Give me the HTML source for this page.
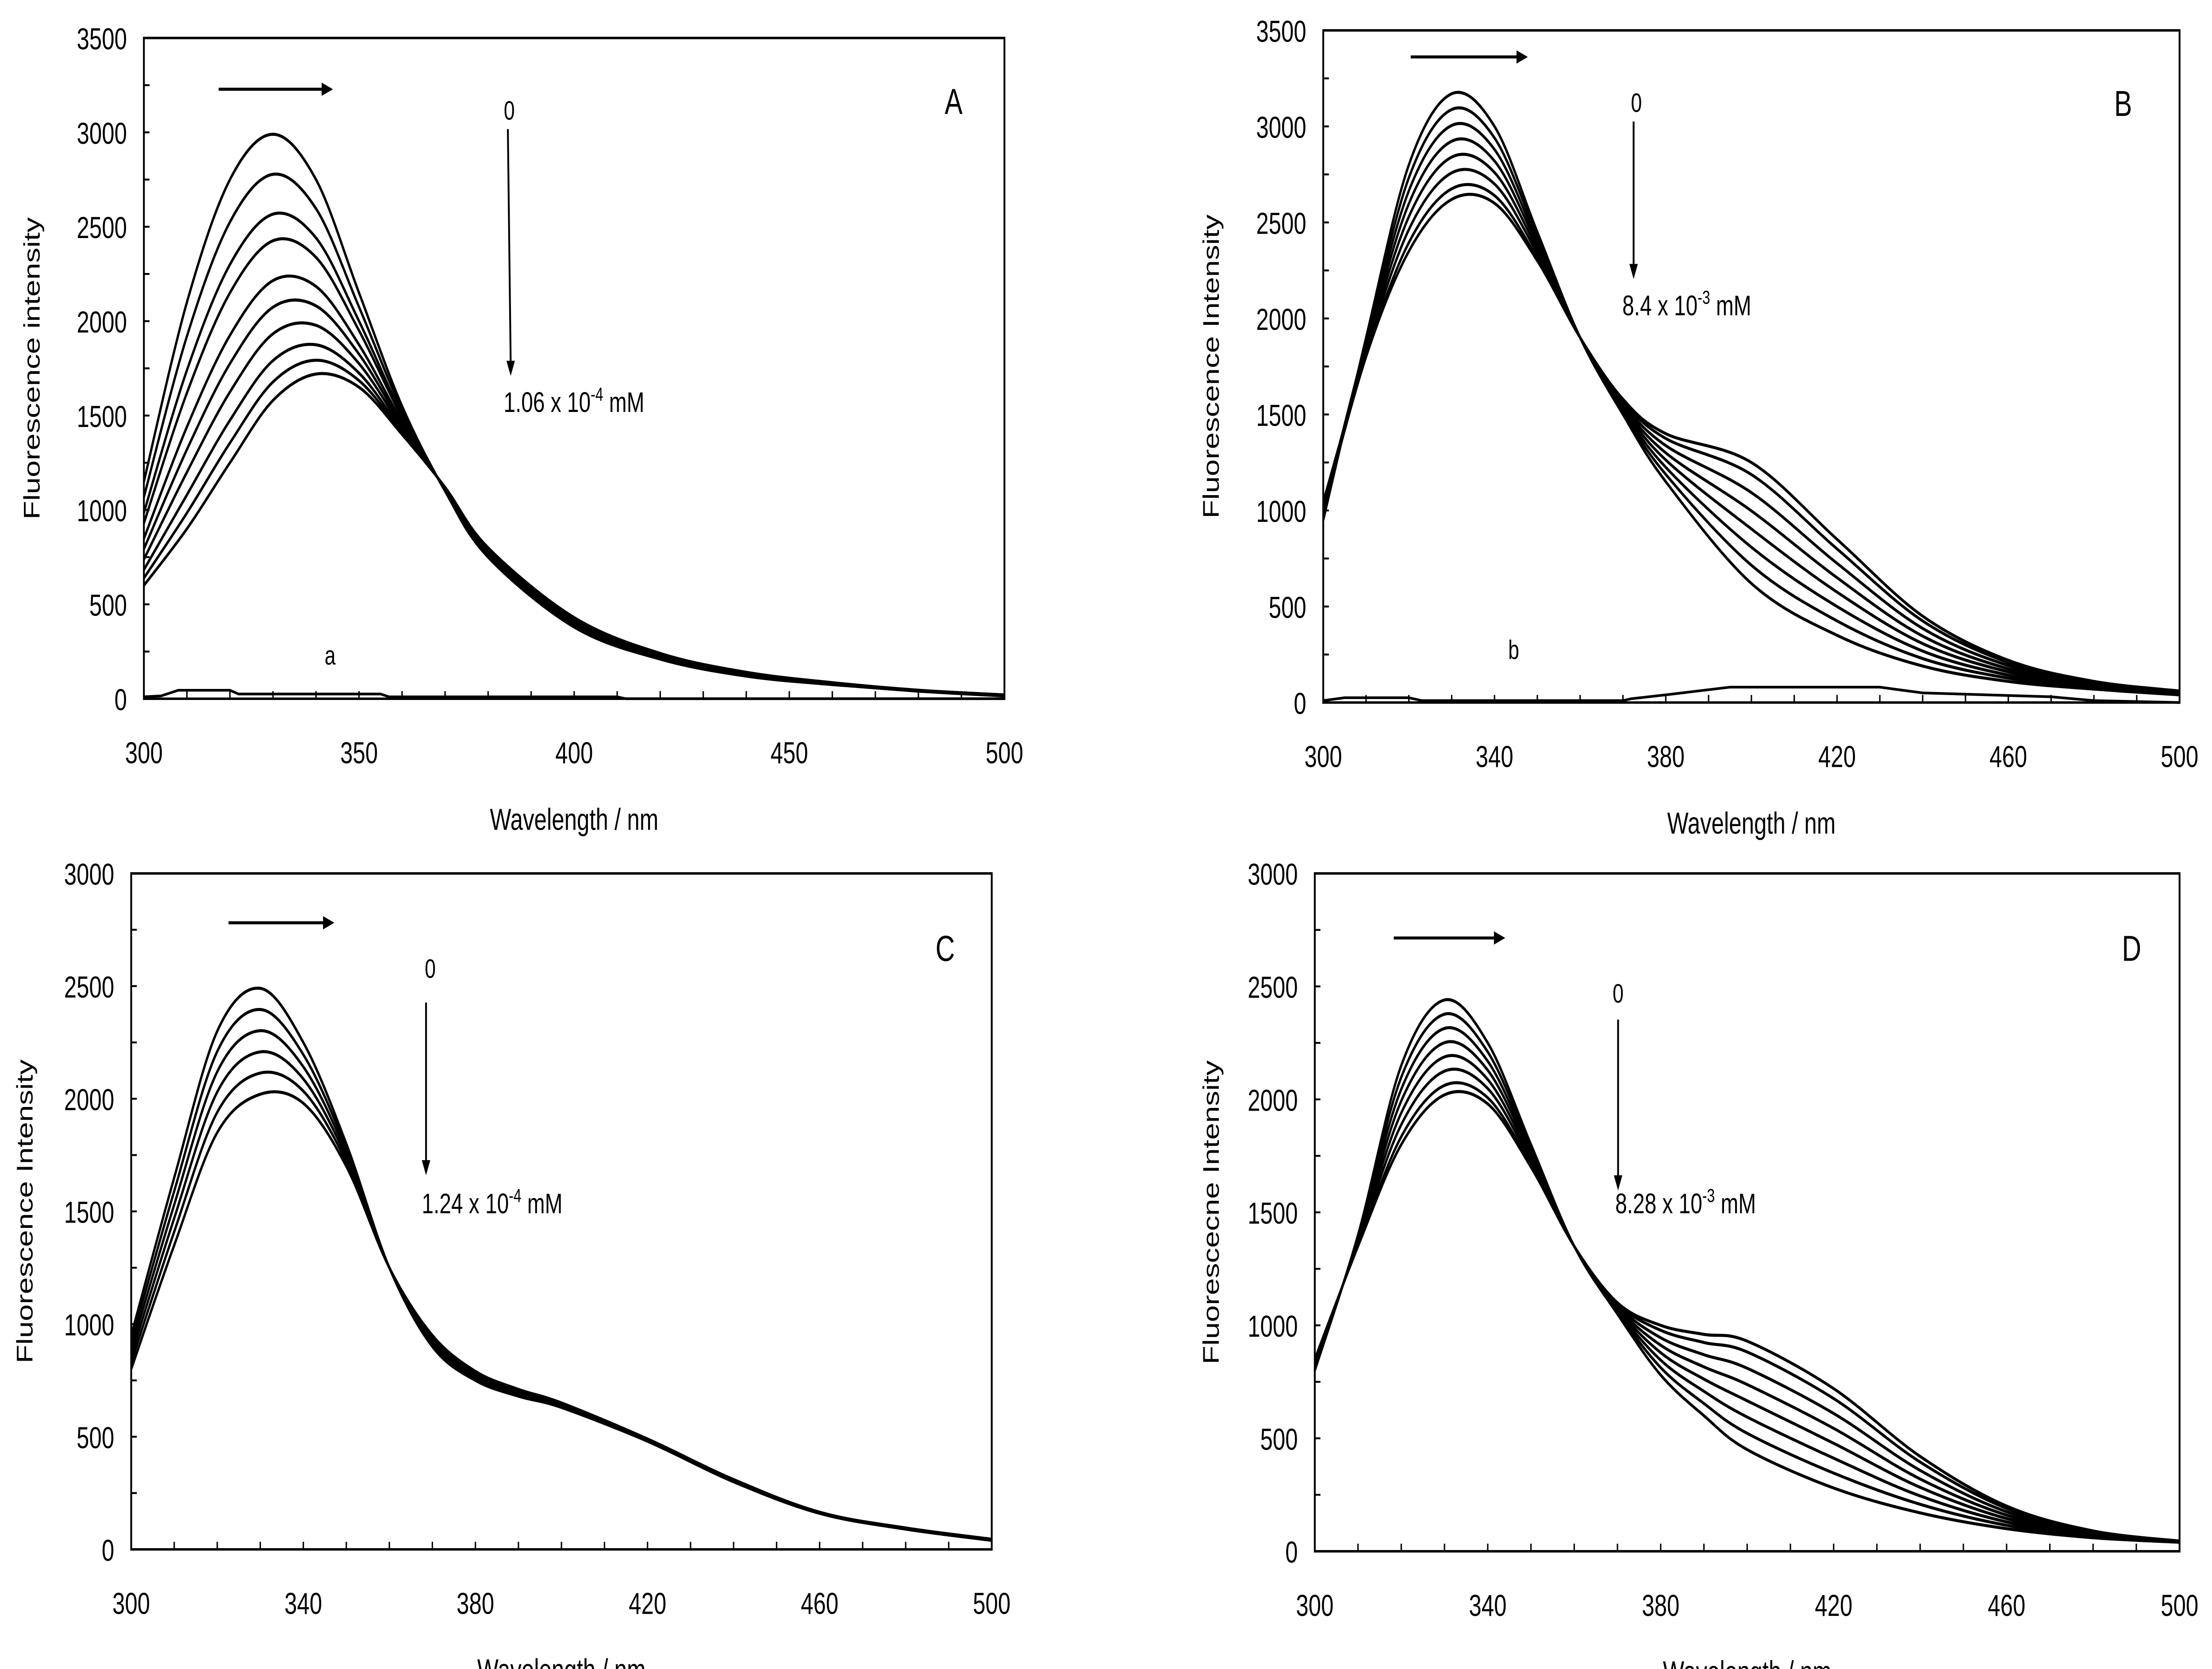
<!DOCTYPE html>
<html><head><meta charset="utf-8"><style>
html,body{margin:0;padding:0;background:#fff;width:100%;height:100%;overflow:hidden;}
svg{display:block;position:fixed;left:0;top:0;width:100vw;height:100vh;}
text{font-family:"Liberation Sans",Arial,sans-serif;fill:#000;}
</style></head><body>
<svg id="fig" viewBox="0 0 1568 879" preserveAspectRatio="none" xmlns="http://www.w3.org/2000/svg">
<rect width="1568" height="879" fill="#fff"/>
</svg>
<script>
// ---------- data ----------
const wlA = [300,310,320,330,340,350,360,370,380,400,420,440,460,480,500];
const seriesA = [
 [1150,2100,2750,2990,2750,2150,1550,1100,750,380,210,120,75,40,15],
 [1068,1920,2525,2778,2596,2075,1528,1103,758,388,215,123,77,41,16],
 [985,1740,2300,2567,2441,2000,1505,1106,765,395,219,126,78,42,17],
 [930,1620,2150,2426,2338,1950,1490,1108,770,400,222,128,79,42,17],
 [848,1440,1925,2215,2184,1875,1468,1111,778,408,227,131,80,43,18],
 [793,1320,1775,2074,2081,1825,1453,1113,783,413,230,134,81,44,18],
 [738,1200,1625,1933,1978,1775,1438,1115,788,418,233,135,82,44,19],
 [683,1080,1475,1791,1875,1725,1423,1117,793,423,236,137,84,45,19],
 [639,984,1355,1678,1793,1685,1411,1119,797,427,239,139,84,45,20],
 [600,900,1250,1580,1720,1650,1400,1120,800,430,240,140,85,45,20]
];
const blankWlA = [300,304,308,320,322,355,357,410,412,500];
const blankA = [10,15,45,45,25,25,10,10,0,0];

const wlB = [300,310,320,330,340,350,360,370,380,400,420,440,460,480,500];
const seriesB = [
 [950,1900,2800,3170,3000,2450,1900,1500,1150,620,350,190,110,70,40],
 [1008,1885,2733,3088,2940,2428,1900,1512,1188,715,425,229,127,76,43],
 [1015,1870,2665,3005,2880,2405,1900,1524,1225,809,500,268,143,82,46],
 [1023,1855,2598,2923,2820,2383,1900,1536,1263,904,575,307,160,88,49],
 [1030,1840,2530,2840,2760,2360,1900,1548,1300,998,650,346,176,94,52],
 [1038,1825,2463,2758,2700,2338,1900,1560,1338,1093,725,386,193,100,55],
 [1045,1810,2395,2675,2640,2315,1900,1572,1375,1187,800,425,209,106,58],
 [1000,1800,2350,2620,2600,2300,1900,1580,1400,1250,850,450,220,110,60]
];
const blankWlB = [300,305,320,323,370,372,380,395,430,440,470,480,500];
const blankB = [10,25,25,10,10,20,40,80,80,50,30,10,0];

const wlC = [300,310,320,330,340,350,360,370,380,390,400,420,440,460,480,500];
const seriesC = [
 [950,1650,2300,2490,2250,1800,1250,900,750,680,630,480,300,160,90,40],
 [920,1590,2210,2396,2196,1780,1250,910,758,686,634,482,302,161,91,41],
 [890,1530,2120,2302,2142,1760,1250,920,766,692,638,484,304,162,92,42],
 [860,1470,2030,2208,2088,1740,1250,930,774,698,642,486,306,163,93,43],
 [830,1410,1940,2114,2034,1720,1250,940,782,704,646,488,308,164,94,44],
 [800,1350,1850,2020,1980,1700,1250,950,790,710,650,490,310,165,95,45]
];

const wlD = [300,310,320,330,340,350,360,370,380,390,400,420,440,460,480,500];
const seriesD = [
 [800,1400,2150,2440,2250,1800,1350,1050,780,600,450,280,170,100,60,40],
 [808,1393,2098,2377,2210,1785,1350,1058,813,654,522,346,208,115,65,41],
 [815,1385,2045,2314,2169,1770,1350,1065,846,708,594,412,245,130,69,42],
 [823,1378,1993,2251,2129,1755,1350,1073,879,762,666,478,283,145,74,42],
 [830,1370,1940,2188,2088,1740,1350,1080,912,816,738,544,320,160,78,43],
 [838,1363,1888,2125,2048,1725,1350,1088,945,870,810,610,358,175,83,44],
 [845,1355,1835,2062,2007,1710,1350,1095,978,924,882,676,395,190,87,45],
 [850,1350,1800,2020,1980,1700,1350,1100,1000,960,930,720,420,200,90,45]
];

const xTicksA = [300,350,400,450,500];
const xTicksB = [300,340,380,420,460,500];
const yTicks3500 = [0,500,1000,1500,2000,2500,3000,3500];
const yTicks3000 = [0,500,1000,1500,2000,2500,3000];

// ---------- rendering ----------
const NS = "http://www.w3.org/2000/svg";
const svg = document.getElementById('fig');
function mk(tag, attrs, parent){
  const e = document.createElementNS(NS, tag);
  for (const k in attrs) e.setAttribute(k, attrs[k]);
  (parent||svg).appendChild(e);
  return e;
}
function smoothPath(pts){
  let d = 'M'+pts[0][0].toFixed(2)+','+pts[0][1].toFixed(2);
  for (let i=0;i<pts.length-1;i++){
    const p0=pts[i-1]||pts[i], p1=pts[i], p2=pts[i+1], p3=pts[i+2]||p2;
    const c1=[p1[0]+(p2[0]-p0[0])/6, p1[1]+(p2[1]-p0[1])/6];
    const c2=[p2[0]-(p3[0]-p1[0])/6, p2[1]-(p3[1]-p1[1])/6];
    d+=' C'+c1[0].toFixed(2)+','+c1[1].toFixed(2)+' '+c2[0].toFixed(2)+','+c2[1].toFixed(2)+' '+p2[0].toFixed(2)+','+p2[1].toFixed(2);
  }
  return d;
}

function panel(cfg){
  const g = mk('g', {});
  
  
  const {x0,x1,y0,y1,ymax} = cfg;
  const sx = v => x0 + (v-300)/200*(x1-x0);
  const sy = v => y1 - v/ymax*(y1-y0);

  const fr = mk('rect', {x:x0,y:y0,width:x1-x0,height:y1-y0,fill:'none',stroke:'#000','stroke-width':1.3}, g);
  
  

  for (let v=0; v<=ymax; v+=250){
    mk('line',{x1:x0,x2:x0+4,y1:sy(v),y2:sy(v),stroke:'#000','stroke-width':1}, g);
  }
  cfg.yTicks.forEach(v=>{
    const t = mk('text',{x:x0-12,y:sy(v)+6,'font-size':16,'text-anchor':'end'}, g);
    
    
    t.textContent = v;
  });
  for (let v=300; v<=500; v+=10){
    mk('line',{x1:sx(v),x2:sx(v),y1:y1,y2:y1-4,stroke:'#000','stroke-width':1}, g);
  }
  cfg.xTicks.forEach(v=>{
    const t = mk('text',{x:sx(v),y:y1+34,'font-size':16,'text-anchor':'middle'}, g);
    
    
    t.textContent = v;
  });
  const xt = mk('text',{x:(x0+x1)/2,y:y1+69,'font-size':16,'text-anchor':'middle'}, g);
  
  
  xt.textContent = 'Wavelength / nm';
  const yt = mk('text',{x:0,y:0,'font-size':16,'text-anchor':'middle',transform:'translate('+cfg.ytx+','+((y0+y1)/2)+') rotate(-90)'}, g);
  
  
  yt.textContent = cfg.ytitle;

  cfg.series.forEach((s,i)=>{
    const pts = cfg.wl.map((w,j)=>[sx(w), sy(s[j])]);
    const p = mk('path',{d:smoothPath(pts),fill:'none',stroke:'#000','stroke-width':1.6,'stroke-linejoin':'round'}, g);
    
    
  });
  if (cfg.blank){
    const pts = cfg.blankWl.map((w,j)=>sx(w).toFixed(2)+','+sy(cfg.blank[j]).toFixed(2)).join(' ');
    const p = mk('polyline',{points:pts,fill:'none',stroke:'#000','stroke-width':1.4}, g);
    
    
    const bl = mk('text',{x:cfg.blankLabel[0],y:cfg.blankLabel[1],'font-size':14,'text-anchor':'middle'}, g);
    
    
    bl.textContent = cfg.blankText;
  }

  const ha = cfg.harrow;
  const hl = mk('line',{x1:ha[0],x2:ha[1]-7,y1:ha[2],y2:ha[2],stroke:'#000','stroke-width':1.6}, g);
  
  
  mk('polygon',{points:(ha[1])+','+ha[2]+' '+(ha[1]-8)+','+(ha[2]-3.5)+' '+(ha[1]-8)+','+(ha[2]+3.5),fill:'#000'}, g);
  const va = cfg.varrow;
  const vl = mk('line',{x1:va[0],x2:va[1],y1:va[2],y2:va[3]-7,stroke:'#000','stroke-width':1.3}, g);
  
  
  mk('polygon',{points:va[1]+','+va[3]+' '+(va[1]-3)+','+(va[3]-8)+' '+(va[1]+3)+','+(va[3]-8),fill:'#000'}, g);
  const z = mk('text',{x:cfg.zero[0],y:cfg.zero[1],'font-size':14,'text-anchor':'middle'}, g);
  
  
  z.textContent = '0';
  const c = mk('text',{x:cfg.conc[0],y:cfg.conc[1],'font-size':15}, g);
  
  
  c.innerHTML = cfg.concText[0]+' x 10<tspan dy="-6" font-size="10">'+cfg.concText[1]+'</tspan><tspan dy="6"> mM</tspan>';
  const L = mk('text',{x:cfg.letter[0],y:cfg.letter[1],'font-size':19,'text-anchor':'middle'}, g);
  
  
  L.textContent = cfg.letterText;
}

panel({name:'panel-a',x0:102,x1:712,y0:20,y1:368,ymax:3500,yTicks:yTicks3500,xTicks:xTicksA,
  wl:wlA,series:seriesA,blank:blankA,blankWl:blankWlA,blankLabel:[234,350],blankText:'a',
  ytx:28,ytitle:'Fluorescence intensity',harrow:[155,236,47],varrow:[360,362,68,198],
  zero:[361,63],conc:[357,217],concText:['1.06','-4'],letter:[676,60],letterText:'A'});
panel({name:'panel-b',x0:938,x1:1545,y0:16,y1:370,ymax:3500,yTicks:yTicks3500,xTicks:xTicksB,
  wl:wlB,series:seriesB,blank:blankB,blankWl:blankWlB,blankLabel:[1073,347],blankText:'b',
  ytx:864,ytitle:'Fluorescence Intensity',harrow:[1000,1083,30],varrow:[1158,1158,64,147],
  zero:[1160,59],conc:[1150,166],concText:['8.4','-3'],letter:[1505,61],letterText:'B'});
panel({name:'panel-c',x0:93,x1:703,y0:460,y1:816,ymax:3000,yTicks:yTicks3000,xTicks:xTicksB,
  wl:wlC,series:seriesC,
  ytx:23,ytitle:'Fluorescence Intensity',harrow:[162,237,486],varrow:[302,302,528,619],
  zero:[305,515],conc:[299,639],concText:['1.24','-4'],letter:[670,506],letterText:'C'});
panel({name:'panel-d',x0:932,x1:1545,y0:460,y1:817,ymax:3000,yTicks:yTicks3000,xTicks:xTicksB,
  wl:wlD,series:seriesD,
  ytx:864,ytitle:'Fluorescecne Intensity',harrow:[988,1067,494],varrow:[1147,1147,537,627],
  zero:[1147,528],conc:[1145,639],concText:['8.28','-3'],letter:[1511,506],letterText:'D'});
</script>
</body></html>
